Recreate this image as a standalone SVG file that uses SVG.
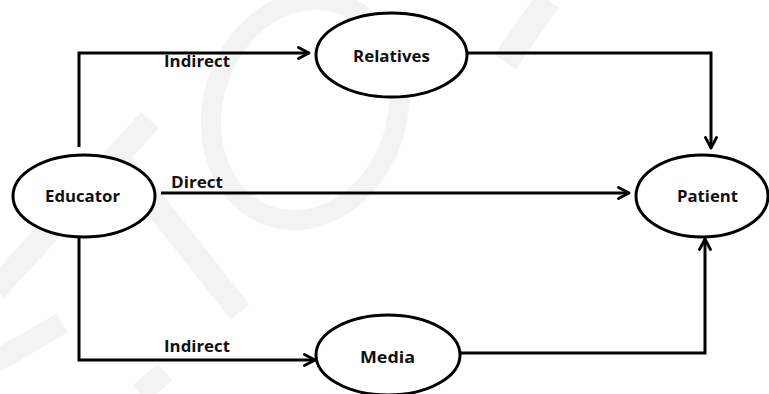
<svg xmlns="http://www.w3.org/2000/svg" width="769" height="394" viewBox="0 0 769 394">
  <defs>
    <marker id="arrow" viewBox="0 0 14 14" refX="12.5" refY="7" markerWidth="14" markerHeight="14" markerUnits="userSpaceOnUse" orient="auto">
      <path d="M2,1.5 L12.5,7 L2,12.5" fill="none" stroke="#000" stroke-width="2.8" stroke-linecap="round" stroke-linejoin="round"/>
    </marker>
  </defs>
  <style>
    .node ellipse { fill: #fff; stroke: #000; stroke-width: 3; }
    .label { font-family: "Open Sans", "Liberation Sans", sans-serif; font-weight: bold; font-size: 16px; fill: #111; }
    .edge { fill: none; stroke: #000; stroke-width: 3; }
    .mark { fill: none; stroke: #f3f3f3; stroke-linecap: butt; }
  </style>
  <rect width="769" height="394" fill="#fff"/>

  <!-- faint background logo -->
  <g id="backdrop">
    <ellipse class="mark" cx="305" cy="110" rx="92" ry="112" transform="rotate(18 305 110)" stroke-width="20"/>
    <path class="mark" d="M548,0 L505,62" stroke-width="26"/>
    <path class="mark" d="M-5,290 L150,120" stroke-width="24"/>
    <path class="mark" d="M120,160 L240,312" stroke-width="24"/>
    <path class="mark" d="M-5,362 L62,323" stroke-width="22"/>
    <path class="mark" d="M140,394 L165,372" stroke-width="22"/>
  </g>

  <g id="connectors">
    <polyline class="edge" points="79,147 79,53 309,53" marker-end="url(#arrow)"/>
    <polyline class="edge" points="79,238 79,360 315,360" marker-end="url(#arrow)"/>
    <line class="edge" x1="161" y1="193" x2="629" y2="193" marker-end="url(#arrow)"/>
    <polyline class="edge" points="467,53 711,53 711,148" marker-end="url(#arrow)"/>
    <polyline class="edge" points="459,353 705,353 705,239" marker-end="url(#arrow)"/>
    <text class="label" x="164" y="67" textLength="66" lengthAdjust="spacingAndGlyphs">Indirect</text>
    <text class="label" x="171" y="188" textLength="52" lengthAdjust="spacingAndGlyphs">Direct</text>
    <text class="label" x="164" y="352" textLength="66" lengthAdjust="spacingAndGlyphs">Indirect</text>
  </g>

  <g id="educator" class="node">
    <ellipse cx="84" cy="196" rx="71" ry="41"/>
    <text class="label" x="45" y="202" textLength="75" lengthAdjust="spacingAndGlyphs">Educator</text>
  </g>
  <g id="relatives" class="node">
    <ellipse cx="391.5" cy="55" rx="75.5" ry="42"/>
    <text class="label" x="353" y="62" textLength="77" lengthAdjust="spacingAndGlyphs">Relatives</text>
  </g>
  <g id="patient" class="node">
    <ellipse cx="702" cy="196" rx="66" ry="41"/>
    <text class="label" x="677" y="202" textLength="61" lengthAdjust="spacingAndGlyphs">Patient</text>
  </g>
  <g id="media" class="node">
    <ellipse cx="388" cy="355" rx="72" ry="40"/>
    <text class="label" x="360" y="363" textLength="55" lengthAdjust="spacingAndGlyphs">Media</text>
  </g>
</svg>
